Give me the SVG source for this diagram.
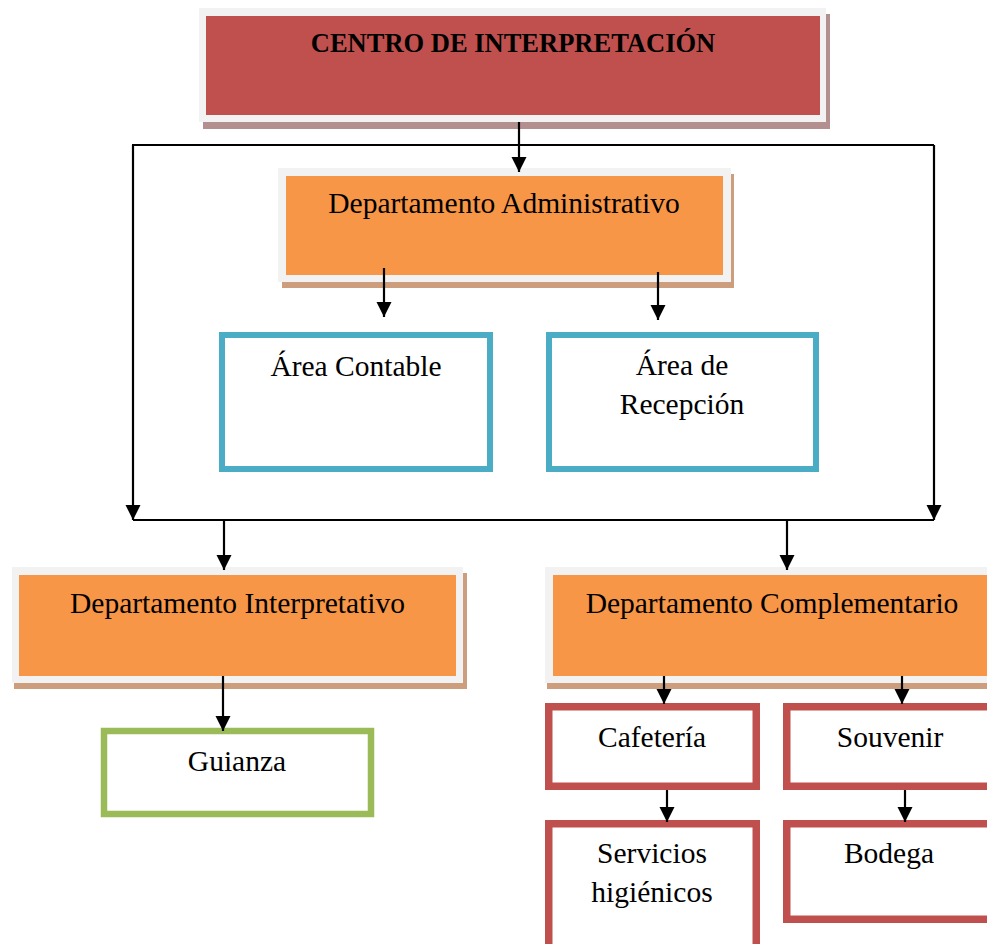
<svg xmlns="http://www.w3.org/2000/svg" width="987" height="944" viewBox="0 0 987 944">
<style>
  text { font-family: "Liberation Serif", "Times New Roman", serif; font-size: 29.5px; fill: #000; text-anchor: middle; }
  .title { font-weight: bold; font-size: 26.5px; }
  .frame { fill: #f2f2f2; }
  .shadowR { fill: #b3908f; }
  .shadowO { fill: #cd9e7e; }
  .red { fill: #c0504d; }
  .orange { fill: #f79646; }
  .blue { fill: #fff; stroke: #4bacc6; stroke-width: 6; }
  .green { fill: #fff; stroke: #9bbb59; stroke-width: 6.5; }
  .redbox { fill: #fff; stroke: #c0504d; stroke-width: 7.5; }
  .conn path { fill: none; stroke: #000; stroke-width: 2.2; }
  .conn path.arrow { marker-end: url(#ah); }
</style>
<defs>
  <marker id="ah" markerUnits="userSpaceOnUse" markerWidth="16" markerHeight="16" refX="15" refY="7.5" orient="auto">
    <path d="M0,0 L15,7.5 L0,15 z" fill="#000"/>
  </marker>
</defs>
<rect width="987" height="944" fill="#fff"/>

<g id="centro">
  <rect class="shadowR" x="203" y="14" width="627" height="115"/>
  <rect class="frame" x="199" y="8" width="627" height="114"/>
  <rect class="red" x="206" y="16" width="614" height="99"/>
  <text class="title" x="513" y="52">CENTRO DE INTERPRETACIÓN</text>
</g>

<g id="dep-administrativo">
  <rect class="shadowO" x="282" y="174" width="452" height="114"/>
  <rect class="frame" x="278" y="168" width="453" height="114"/>
  <rect class="orange" x="286" y="176" width="437" height="99"/>
  <text x="504" y="213">Departamento Administrativo</text>
</g>

<g id="area-contable">
  <rect class="blue" x="222" y="335" width="268" height="134"/>
  <text x="356" y="376">Área Contable</text>
</g>

<g id="area-recepcion">
  <rect class="blue" x="549" y="335" width="267" height="134"/>
  <text x="682" y="375">Área de</text>
  <text x="682" y="414">Recepción</text>
</g>

<g id="dep-interpretativo">
  <rect class="shadowO" x="14" y="573" width="453" height="116"/>
  <rect class="frame" x="12" y="567" width="451" height="116"/>
  <rect class="orange" x="19" y="575" width="437" height="101"/>
  <text x="237.5" y="613">Departamento Interpretativo</text>
</g>

<g id="dep-complementario">
  <rect class="shadowO" x="547" y="573" width="460" height="116"/>
  <rect class="frame" x="545" y="567" width="460" height="116"/>
  <rect class="orange" x="553" y="575" width="450" height="101"/>
  <text x="772" y="613">Departamento Complementario</text>
</g>

<g id="guianza">
  <rect class="green" x="104" y="731" width="267" height="83"/>
  <text x="237" y="771">Guianza</text>
</g>

<g id="cafeteria">
  <rect class="redbox" x="548.75" y="706.75" width="207.5" height="79.5"/>
  <text x="652" y="747">Cafetería</text>
</g>

<g id="souvenir">
  <rect class="redbox" x="786.75" y="706.75" width="230" height="79.5"/>
  <text x="890" y="747">Souvenir</text>
</g>

<g id="servicios">
  <rect class="redbox" x="548.75" y="823.75" width="207.5" height="140"/>
  <text x="652" y="863">Servicios</text>
  <text x="652" y="902">higiénicos</text>
</g>

<g id="bodega">
  <rect class="redbox" x="786.75" y="823.75" width="230" height="95.5"/>
  <text x="889" y="863">Bodega</text>
</g>

<g id="connectors" class="conn">
  <path class="arrow" d="M519,122 V172"/>
  <path d="M132,145 H934"/>
  <path class="arrow" d="M133,145 V520"/>
  <path class="arrow" d="M934,145 V520"/>
  <path d="M133,520 H934"/>
  <path class="arrow" d="M224,520 V570"/>
  <path class="arrow" d="M787,520 V570"/>
  <path class="arrow" d="M384,268 V317"/>
  <path class="arrow" d="M658,272 V320"/>
  <path class="arrow" d="M223,676 V731"/>
  <path class="arrow" d="M664,676 V704"/>
  <path class="arrow" d="M902,676 V704"/>
  <path class="arrow" d="M667,790 V822"/>
  <path class="arrow" d="M905,790 V822"/>
</g>
</svg>
